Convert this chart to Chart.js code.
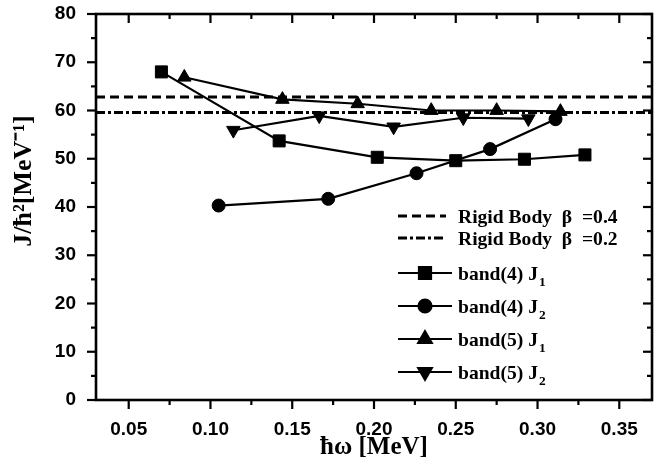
<!DOCTYPE html>
<html>
<head>
<meta charset="utf-8">
<script src="https://cdn.jsdelivr.net/npm/chart.js@4/dist/chart.umd.min.js"></script>
<style>
  html, body { margin: 0; padding: 0; background: #fff; }
  #wrap { width: 664px; height: 469px; position: relative; }
</style>
</head>
<body>
<div id="wrap"><canvas id="c" width="664" height="469"></canvas></div>
<script>
// ---- data ----
const xTickValues = [0.05, 0.10, 0.15, 0.20, 0.25, 0.30, 0.35];
const yTickValues = [0, 10, 20, 30, 40, 50, 60, 70, 80];
const xRange = [0.03, 0.37];
const yRange = [0, 80];

const band4J1_x = [0.070, 0.142, 0.202, 0.250, 0.292, 0.329];
const band4J1_y = [68.0, 53.7, 50.3, 49.6, 49.9, 50.8];

const band4J2_x = [0.105, 0.172, 0.226, 0.271, 0.311];
const band4J2_y = [40.3, 41.7, 47.0, 52.0, 58.2];

const band5J1_x = [0.084, 0.144, 0.190, 0.235, 0.275, 0.314];
const band5J1_y = [66.9, 62.3, 61.4, 60.0, 60.0, 59.8];

const band5J2_x = [0.114, 0.1665, 0.212, 0.2546, 0.2944];
const band5J2_y = [55.9, 58.9, 56.6, 58.5, 58.3];

const rigidBeta04 = 62.8;
const rigidBeta02 = 59.6;

const legendLabels = [
  { text: 'Rigid Body  β  =0.4', sub: '' },
  { text: 'Rigid Body  β  =0.2', sub: '' },
  { text: 'band(4) J', sub: '1' },
  { text: 'band(4) J', sub: '2' },
  { text: 'band(5) J', sub: '1' },
  { text: 'band(5) J', sub: '2' }
];

const pts = (xs, ys) => xs.map((x, i) => ({ x: x, y: ys[i] }));

const serifBold = "bold 19px 'Liberation Serif', 'Times New Roman', serif";

const framePlugin = {
  id: 'frame',
  afterDraw(chart) {
    const ctx = chart.ctx;
    const a = chart.chartArea;
    const xs = chart.scales.x, ys = chart.scales.y;
    ctx.save();
    ctx.strokeStyle = '#000';
    ctx.lineWidth = 2.6;
    ctx.strokeRect(a.left, a.top, a.right - a.left, a.bottom - a.top);
    ctx.lineWidth = 2.2;
    const xMajor = xTickValues;
    const xMinor = xTickValues.map(v => v + 0.025).filter(v => v < xRange[1]);
    const yMajor = yTickValues;
    const yMinor = yTickValues.map(v => v + 5).filter(v => v < yRange[1]);
    const line = (x1, y1, x2, y2) => { ctx.beginPath(); ctx.moveTo(x1, y1); ctx.lineTo(x2, y2); ctx.stroke(); };
    xMajor.forEach(v => { const p = xs.getPixelForValue(v); line(p, a.bottom, p, a.bottom + 9); line(p, a.top, p, a.top + 9); });
    xMinor.forEach(v => { const p = xs.getPixelForValue(v); line(p, a.bottom, p, a.bottom + 5); line(p, a.top, p, a.top + 5); });
    yMajor.forEach(v => { const p = ys.getPixelForValue(v); line(a.left - 9, p, a.left, p); line(a.right - 9, p, a.right, p); });
    yMinor.forEach(v => { const p = ys.getPixelForValue(v); line(a.left - 5, p, a.left, p); line(a.right - 5, p, a.right, p); });
    ctx.restore();
  }
};

const legendPlugin = {
  id: 'customLegend',
  afterDraw(chart) {
    const ctx = chart.ctx;
    const ds = chart.data.datasets;
    const order = [4, 5, 0, 1, 2, 3];
    const rowY = [216, 238, 273, 306, 339, 372];
    const x0 = 398, x1 = 452, tx = 458;
    ctx.save();
    order.forEach((di, i) => {
      const d = ds[di];
      const y = rowY[i];
      ctx.strokeStyle = '#000';
      ctx.lineWidth = d.borderWidth;
      ctx.setLineDash(d.borderDash || []);
      ctx.beginPath();
      ctx.moveTo(x0, y);
      ctx.lineTo(i < 2 ? 446 : x1, y);
      ctx.stroke();
      ctx.setLineDash([]);
      if (d.pointRadius > 0) {
        ctx.fillStyle = '#000';
        Chart.helpers.drawPoint(ctx, {
          pointStyle: d.pointStyle, rotation: d.rotation || 0,
          radius: d.pointRadius, borderWidth: 1
        }, (x0 + x1) / 2, y);
      }
      const lab = legendLabels[i];
      ctx.font = serifBold;
      ctx.fillStyle = '#000';
      ctx.textBaseline = 'alphabetic';
      ctx.save();
      ctx.translate(tx, y + 7);
      ctx.scale(1.03, 1);
      ctx.fillText(lab.text, 0, 0);
      const w = ctx.measureText(lab.text).width;
      if (lab.sub) {
        ctx.font = "bold 13px 'Liberation Serif', serif";
        ctx.fillText(lab.sub, w + 1, 6);
      }
      ctx.restore();
    });
    ctx.restore();
  }
};

const common = { borderColor: '#000', backgroundColor: '#000', pointBackgroundColor: '#000', pointBorderColor: '#000', borderWidth: 2.2, fill: false, tension: 0, pointBorderWidth: 1 };

new Chart(document.getElementById('c'), {
  type: 'scatter',
  data: {
    datasets: [
      Object.assign({}, common, { label: 'band(4) J1', data: pts(band4J1_x, band4J1_y), showLine: true, pointStyle: 'rect', pointRadius: 8.5 }),
      Object.assign({}, common, { label: 'band(4) J2', data: pts(band4J2_x, band4J2_y), showLine: true, pointStyle: 'circle', pointRadius: 6.5 }),
      Object.assign({}, common, { label: 'band(5) J1', data: pts(band5J1_x, band5J1_y), showLine: true, pointStyle: 'triangle', pointRadius: 7.8 }),
      Object.assign({}, common, { label: 'band(5) J2', data: pts(band5J2_x, band5J2_y), showLine: true, pointStyle: 'triangle', rotation: 180, pointRadius: 7.8 }),
      Object.assign({}, common, { label: 'Rigid Body β=0.4', data: pts(xRange, [rigidBeta04, rigidBeta04]), showLine: true, pointRadius: 0, borderWidth: 3, borderDash: [9, 5] }),
      Object.assign({}, common, { label: 'Rigid Body β=0.2', data: pts(xRange, [rigidBeta02, rigidBeta02]), showLine: true, pointRadius: 0, borderWidth: 3, borderDash: [9, 3, 3, 3] })
    ]
  },
  options: {
    responsive: false,
    animation: false,
    events: [],
    layout: { padding: { left: 0, top: 14, right: 12, bottom: 0 } },
    plugins: { legend: { display: false }, tooltip: { enabled: false } },
    scales: {
      x: {
        type: 'linear', min: xRange[0], max: xRange[1],
        grid: { display: false }, border: { display: false },
        afterBuildTicks: s => { s.ticks = xTickValues.map(v => ({ value: v })); },
        afterFit: s => { s.height = 69; s.paddingLeft = 0; s.paddingRight = 0; },
        ticks: { color: '#000', padding: 10, maxRotation: 0, font: { family: "'Liberation Sans', Arial, sans-serif", weight: 'bold', size: 19 }, callback: v => v.toFixed(2) },
        title: { display: true, text: 'ħω [MeV]', color: '#000', padding: { top: 0, bottom: 6 }, font: { family: "'Liberation Serif', 'Times New Roman', serif", weight: 'bold', size: 25 } }
      },
      y: {
        type: 'linear', min: yRange[0], max: yRange[1],
        grid: { display: false }, border: { display: false },
        afterBuildTicks: s => { s.ticks = yTickValues.map(v => ({ value: v })); },
        afterFit: s => { s.width = 96; s.paddingTop = 0; s.paddingBottom = 0; },
        ticks: { color: '#000', padding: 12, font: { family: "'Liberation Sans', Arial, sans-serif", weight: 'bold', size: 19 }, callback: v => String(v) },
        title: { display: true, text: '\u2003\u2003J/ħ²[MeV⁻¹]', color: '#000', padding: { top: 9, bottom: 0 }, font: { family: "'Liberation Serif', 'Times New Roman', serif", weight: 'bold', size: 26 } }
      }
    }
  },
  plugins: [framePlugin, legendPlugin]
});
</script>
</body>
</html>
